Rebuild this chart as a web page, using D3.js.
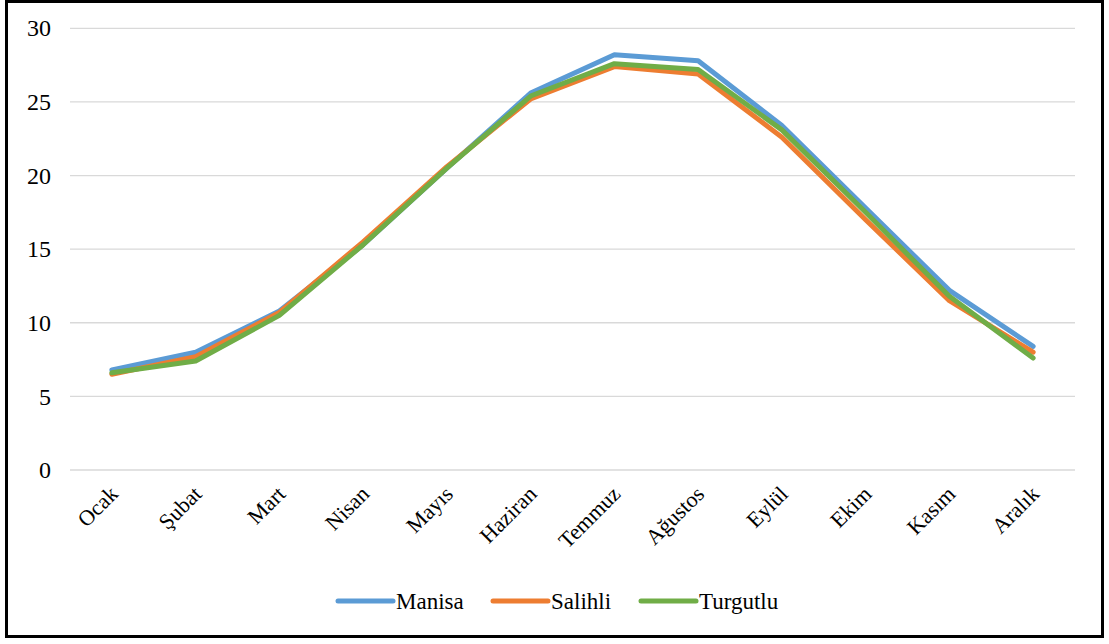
<!DOCTYPE html>
<html>
<head>
<meta charset="utf-8">
<script src="https://cdn.jsdelivr.net/npm/d3@7/dist/d3.min.js"></script>
<style>
  html, body { margin: 0; padding: 0; background: #fff; }
  svg { display: block; }
  svg text { font-family: "Liberation Serif", "DejaVu Serif", serif !important; fill: #000; }
</style>
</head>
<body>
<svg id="chart" width="1109" height="644"></svg>
<script>
// Monthly average temperatures (°C)
const months = ["Ocak", "Şubat", "Mart", "Nisan", "Mayıs", "Haziran", "Temmuz", "Ağustos", "Eylül", "Ekim", "Kasım", "Aralık"];
const manisa   = [6.8, 8.0, 10.8, 15.3, 20.5, 25.6, 28.2, 27.8, 23.4, 17.8, 12.2, 8.4];
const salihli  = [6.5, 7.7, 10.7, 15.5, 20.6, 25.2, 27.4, 26.9, 22.6, 17.0, 11.5, 8.0];
const turgutlu = [6.6, 7.4, 10.5, 15.3, 20.5, 25.4, 27.6, 27.2, 23.1, 17.5, 11.8, 7.6];
const seriesNames = ["Manisa", "Salihli", "Turgutlu"];
const seriesColors = ["#5B9BD5", "#ED7D31", "#70AD47"];
const yTicks = [0, 5, 10, 15, 20, 25, 30];

const series = [manisa, salihli, turgutlu].map((values, i) => ({
  name: seriesNames[i], color: seriesColors[i], values
}));

const svg = d3.select("#chart");
const serif = "'Liberation Serif', 'DejaVu Serif', serif";

// Outer frame
svg.append("rect")
  .attr("x", 6.5).attr("y", 1.5)
  .attr("width", 1096).attr("height", 635)
  .attr("fill", "#fff").attr("stroke", "#000").attr("stroke-width", 3);

const plot = { left: 70, right: 1075, top: 28.3, bottom: 470 };

const x = d3.scaleBand().domain(months).range([plot.left, plot.right]);
const y = d3.scaleLinear().domain([0, 30]).range([plot.bottom, plot.top]);
const xc = m => x(m) + x.bandwidth() / 2;

// Horizontal gridlines
svg.append("g")
  .selectAll("line").data(yTicks).join("line")
  .attr("x1", plot.left).attr("x2", plot.right)
  .attr("y1", d => y(d)).attr("y2", d => y(d))
  .attr("stroke", "#D9D9D9").attr("stroke-width", 1.3);

// Y axis labels
const yAxis = d3.axisLeft(y).tickValues(yTicks).tickSize(0).tickPadding(0);
const gy = svg.append("g").attr("transform", `translate(51,0)`).call(yAxis)
  .attr("font-family", serif).attr("font-size", 24);
gy.select(".domain").remove();
gy.selectAll("text")
  .style("font-family", serif).style("font-size", "24px")
  .attr("fill", "#000").attr("dy", "0.32em");

// X axis labels, rotated
const xAxis = d3.axisBottom(x).tickSize(0).tickPadding(0);
const gx = svg.append("g").attr("transform", `translate(0,${plot.bottom})`).call(xAxis)
  .attr("font-family", serif).attr("font-size", 22);
gx.select(".domain").remove();
gx.selectAll("text")
  .style("font-family", serif).style("font-size", "22px")
  .attr("fill", "#000")
  .attr("text-anchor", "end")
  .attr("transform", "translate(-2,16) rotate(-45)")
  .attr("dy", "0.6em").attr("y", 0).attr("x", 0);

// Lines
const line = d3.line()
  .x((d, i) => xc(months[i]))
  .y(d => y(d));

svg.append("g")
  .selectAll("path").data(series).join("path")
  .attr("d", d => line(d.values))
  .attr("fill", "none")
  .attr("stroke", d => d.color)
  .attr("stroke-width", 5)
  .attr("stroke-linejoin", "round")
  .attr("stroke-linecap", "round");

// Legend
const legendX = [338, 493, 641];
const legendY = 601;
const lg = svg.append("g").selectAll("g").data(series).join("g")
  .attr("transform", (d, i) => `translate(${legendX[i]},${legendY})`);
lg.append("line")
  .attr("x1", 0).attr("x2", 55).attr("y1", 0).attr("y2", 0)
  .attr("stroke", d => d.color).attr("stroke-width", 5).attr("stroke-linecap", "round");
lg.append("text")
  .attr("x", 58).attr("y", 0).attr("dy", "0.35em")
  .style("font-family", serif).style("font-size", "23px")
  .text(d => d.name);
</script>
</body>
</html>
